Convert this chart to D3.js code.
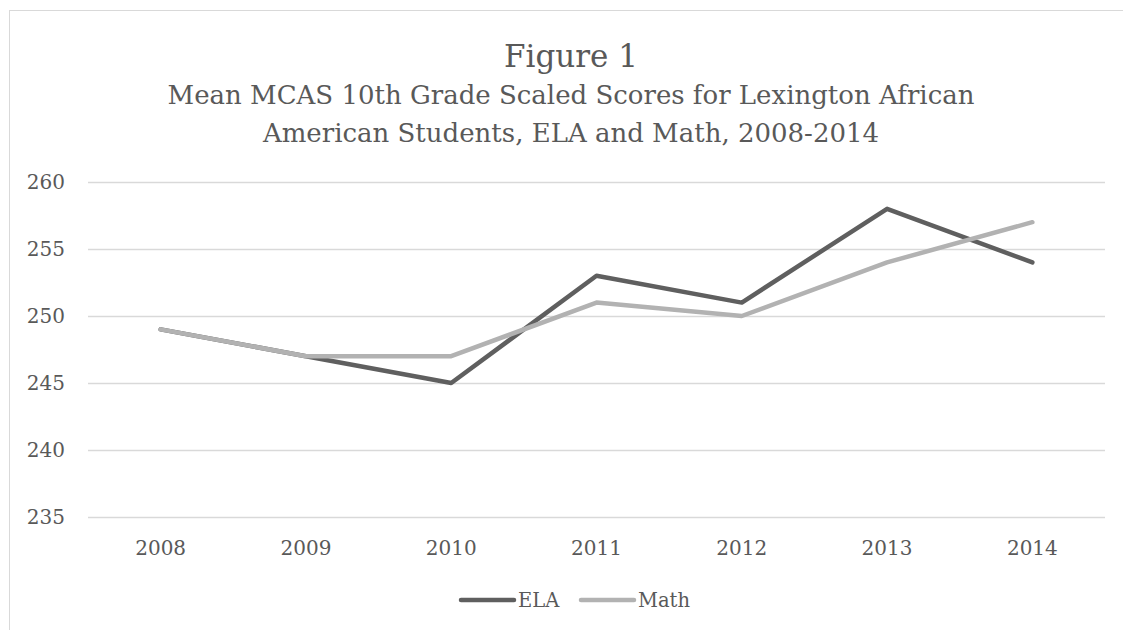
<!DOCTYPE html>
<html><head><meta charset="utf-8">
<script src="https://cdn.jsdelivr.net/npm/d3@7"></script>
<style>body{margin:0;background:#fff;} text{font-family:"DejaVu Serif",serif;fill:#595959;}</style>
</head><body>
<svg id="c" width="1123" height="630"></svg>
<script>
const years = ["2008","2009","2010","2011","2012","2013","2014"];
const ela = [249, 247, 245, 253, 251, 258, 254];
const math = [249, 247, 247, 251, 250, 254, 257];
const yTicks = [235, 240, 245, 250, 255, 260];
const titleLines = ["Figure 1", "Mean MCAS 10th Grade Scaled Scores for Lexington African", "American Students, ELA and Math, 2008-2014"];
const seriesNames = ["ELA", "Math"];
const seriesColors = ["#5f5f5f", "#b2b2b2"];

(function(){
const svg = d3.select("#c");
svg.append("rect").attr("x",9.5).attr("y",10.5).attr("width",1125).attr("height",640)
  .attr("fill","#fff").attr("stroke","#d9d9d9").attr("stroke-width",1);

const pl=88, pr=1105, pt=182, pb=517;
const cx = 571;
const x = d3.scaleBand().domain(years).range([pl,pr]);
const y = d3.scaleLinear().domain([235,260]).range([pb,pt]);

svg.append("text").attr("x",cx).attr("y",67).attr("text-anchor","middle").attr("font-size",31).text(titleLines[0]);
svg.append("text").attr("x",cx).attr("y",104).attr("text-anchor","middle").attr("font-size",26).text(titleLines[1]);
svg.append("text").attr("x",cx).attr("y",142).attr("text-anchor","middle").attr("font-size",26).text(titleLines[2]);

const gy = svg.append("g").attr("transform",`translate(${pl},0)`)
  .call(d3.axisLeft(y).tickValues(yTicks).tickSize(-(pr-pl)).tickPadding(23));
gy.select(".domain").remove();
gy.selectAll("line").attr("stroke","#d9d9d9").attr("stroke-width",1.5);
gy.selectAll("text").attr("font-size",20).attr("font-family","DejaVu Serif").attr("fill","#595959");

const gx = svg.append("g").attr("transform",`translate(0,${pb})`)
  .call(d3.axisBottom(x).tickSize(0).tickPadding(24));
gx.select(".domain").remove();
gx.selectAll("text").attr("font-size",20).attr("font-family","DejaVu Serif").attr("fill","#595959");

const line = d3.line().x((d,i)=>x(years[i])+x.bandwidth()/2).y(d=>y(d));
[ela, math].forEach((s,k)=>{
  svg.append("path").datum(s).attr("d",line).attr("fill","none")
    .attr("stroke",seriesColors[k]).attr("stroke-width",4.5)
    .attr("stroke-linecap","round").attr("stroke-linejoin","round");
});

const lg = [{name:seriesNames[0],x0:461},{name:seriesNames[1],x0:581}];
lg.forEach((d,i)=>{
  svg.append("line").attr("x1",d.x0).attr("x2",d.x0+53).attr("y1",600).attr("y2",600)
    .attr("stroke",seriesColors[i]).attr("stroke-width",4.5).attr("stroke-linecap","round");
  svg.append("text").attr("x",d.x0+57).attr("y",607).attr("font-size",19.5).text(d.name);
});
})();
</script>
</body></html>
